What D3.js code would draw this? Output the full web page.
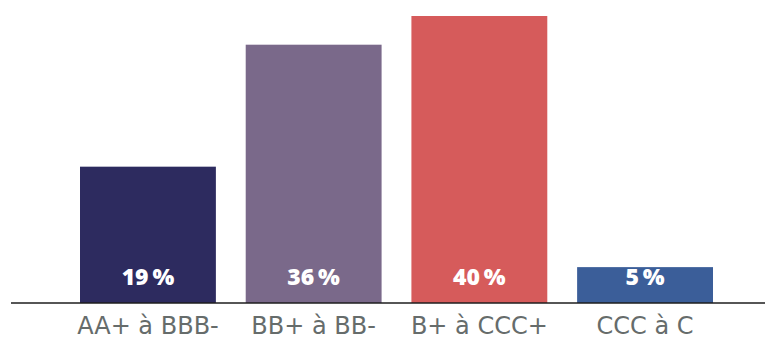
<!DOCTYPE html>
<html>
<head>
<meta charset="utf-8">
<script src="https://cdn.jsdelivr.net/npm/d3@7/dist/d3.min.js"></script>
<style>
  html, body { margin: 0; padding: 0; background: #fff; }
  svg { display: block; }
</style>
</head>
<body>
<svg id="chart" width="765" height="340"></svg>
<script>
// Répartition par catégorie de notation
const categories = ["AA+ à BBB-", "BB+ à BB-", "B+ à CCC+", "CCC à C"];
const values = [19, 36, 40, 5];
const colors = ["#2d2b5f", "#7a698a", "#d65b5b", "#3b5e99"];

const svg = d3.select("#chart");
const baseline = 303;

const x = d3.scaleBand()
  .domain(categories)
  .range([80, 713])
  .paddingInner(0.18)
  .paddingOuter(0);

const y = d3.scaleLinear()
  .domain([0, 40])
  .range([baseline, 16]);

// Bars
svg.append("g").selectAll("rect")
  .data(values)
  .join("rect")
  .attr("x", (d, i) => x(categories[i]))
  .attr("y", d => y(d))
  .attr("width", x.bandwidth())
  .attr("height", d => baseline - y(d))
  .attr("fill", (d, i) => colors[i]);

// Value labels inside the bars
svg.append("g").selectAll("text")
  .data(values)
  .join("text")
  .attr("x", (d, i) => x(categories[i]) + x.bandwidth() / 2)
  .attr("y", 285)
  .attr("text-anchor", "middle")
  .attr("fill", "#fff")
  .attr("font-family", "'Open Sans', sans-serif")
  .attr("font-weight", 800)
  .attr("font-size", 23)
  .text(d => d + "\u2009%");

// Baseline
svg.append("line")
  .attr("x1", 11).attr("x2", 765)
  .attr("y1", baseline).attr("y2", baseline)
  .attr("stroke", "#1e1e1e")
  .attr("stroke-width", 1.5);

// Category axis labels
const xAxis = d3.axisBottom(x).tickSize(0).tickPadding(0);
const gx = svg.append("g")
  .attr("transform", `translate(0,${baseline})`)
  .call(xAxis);
gx.select(".domain").remove();
gx.selectAll("text")
  .attr("y", 31)
  .attr("dy", 0)
  .attr("fill", "#666c6b")
  .attr("font-family", "'DejaVu Sans', sans-serif")
  .attr("font-size", 24);
</script>
</body>
</html>
